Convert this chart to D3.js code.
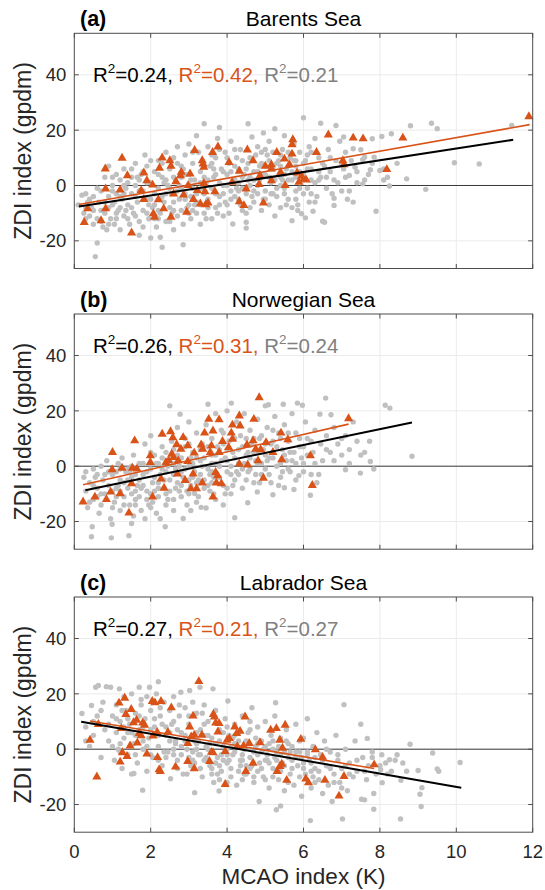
<!DOCTYPE html>
<html><head><meta charset="utf-8">
<script src="https://cdn.jsdelivr.net/npm/d3@7"></script>
<style>body{margin:0;background:#fff}svg{display:block}</style>
</head><body>
<script>
const xTicks=[0,2,4,6,8,10,12];
const yTicks=[-20,0,20,40];
const xDomain=[0,12], yDomain=[-30,55];
const panelLetters=["(a)","(b)","(c)"];
const panelTitles=["Barents Sea","Norwegian Sea","Labrador Sea"];
const r2Black=["0.24","0.26","0.27"];
const r2Orange=["0.42","0.31","0.21"];
const r2Gray=["0.21","0.24","0.27"];
const xLabel="MCAO index (K)", yLabel="ZDI index (gpdm)";

const grayA=[[0.1,-7],[0.2,-3.5],[0.25,-10],[0.3,-3],[0.35,-6],[0.4,-11],[0.45,-8],[0.5,-14],[0.5,-4],[0.55,-25.7],[0.6,-20.8],[0.6,-12],[0.65,-6],[0.7,-2],[0.7,-9],[0.75,-15],[0.8,3],[0.8,-10],[0.85,-16],[0.9,-4],[0.9,7],[0.95,-12],[1.0,0],[1.0,-7],[1.05,-14],[1.1,4],[1.1,-3],[1.15,-9],[1.2,-16],[1.2,2],[1.25,-5],[1.3,-11],[1.3,6],[1.35,-1],[1.4,-7],[1.45,-14],[1.5,3],[1.5,-3],[1.55,-10],[1.6,8],[1.6,0],[1.65,-6],[1.7,-13],[1.7,-18],[1.75,4],[1.8,-2],[1.8,-9],[1.85,11],[1.9,7],[1.9,-5],[1.95,-12],[2.0,1],[2.0,-19],[2.05,-8],[2.1,5],[2.1,-3],[2.15,-15],[2.2,9],[2.2,-1],[2.25,-18.7],[2.25,-10],[2.3,-22.3],[2.3,3],[2.35,-6],[2.4,12],[2.4,-13],[2.45,0],[2.5,6],[2.5,-8],[2.55,-3],[2.6,10],[2.6,-16],[2.65,2],[2.7,-11],[2.7,14],[2.75,-5],[2.8,7],[2.8,-1],[2.85,-21.4],[2.85,-14],[2.9,4],[2.9,11],[2.95,-8],[3.0,0],[3.0,15],[3.05,-4],[3.05,-12],[3.1,8],[3.1,-9],[3.15,2],[3.2,18],[3.2,-6],[3.25,12],[3.25,-2],[3.3,5],[3.3,-14],[3.35,9],[3.4,-10],[3.4,22.3],[3.45,1],[3.5,-5],[3.5,14],[3.55,7],[3.6,-1],[3.6,-12],[3.65,3],[3.7,10],[3.7,-8],[3.75,17],[3.8,21],[3.8,-4],[3.85,6],[3.9,0],[3.9,-11],[3.95,12],[4.0,4],[4.0,-7],[4.05,8],[4.1,-2],[4.1,16],[4.15,-13.9],[4.2,2],[4.25,10],[4.3,-5],[4.3,6],[4.35,13],[4.4,-1],[4.4,-9],[4.45,4],[4.5,-13.3],[4.5,-15.4],[4.5,-10],[4.55,22.3],[4.55,8],[4.6,0],[4.65,17.5],[4.7,5],[4.7,-6],[4.75,11],[4.8,-3],[4.8,14],[4.85,2],[4.9,-9],[4.9,8],[4.95,19],[5.0,4],[5.0,-2],[5.05,11],[5.1,-7],[5.1,16],[5.15,1],[5.2,6],[5.25,-11],[5.25,20.5],[5.3,-4],[5.35,9],[5.4,-8],[5.4,3],[5.45,13],[5.5,18],[5.5,-1],[5.55,6],[5.6,-5],[5.65,10],[5.7,-12.7],[5.7,2],[5.75,15],[5.8,-2],[5.8,7],[5.85,-7],[5.9,12],[5.95,-10.2],[6.0,24.5],[6.0,4],[6.05,-11.7],[6.05,9],[6.1,-1],[6.15,14],[6.2,6],[6.25,-9.3],[6.3,1],[6.3,17],[6.35,-4],[6.4,10],[6.45,22.5],[6.45,3],[6.5,-12.9],[6.55,-13.3],[6.55,7],[6.6,-1],[6.65,13],[6.7,5],[6.75,-3],[6.8,-7.2],[6.8,-4.6],[6.85,21.7],[6.85,9],[6.9,1],[6.95,16],[7.0,-2],[7.05,17.5],[7.05,6],[7.1,12],[7.15,-5],[7.2,3.6],[7.25,9],[7.3,-6],[7.3,13.3],[7.35,6.6],[7.4,1],[7.5,12.9],[7.55,0.6],[7.55,9.3],[7.6,10.2],[7.7,4],[7.75,5.7],[7.8,16.9],[7.85,10.2],[7.9,-9.3],[8.0,5.4],[8.05,17.7],[8.1,6],[8.1,2],[8.2,3],[8.25,-0.2],[8.3,18.7],[8.45,8],[8.7,2.4],[8.8,21.6],[9.2,-1.4],[9.35,22.5],[9.5,20.5],[9.95,8.2],[10.6,7.8],[11.45,21.7],
[1.0,-2],[1.2,-8],[1.4,1],[1.6,-4],[1.8,5],[2.0,-5],[2.2,-12],[2.4,-3],[2.6,-6],[2.8,3],[3.0,-10],[3.2,-3],[3.4,3],[3.6,8],[3.8,-7],[4.0,0],[4.2,-4],[4.4,9],[4.6,-8],[4.8,5],[5.0,7],[5.2,-3],[5.4,11],[5.6,2],[5.8,-5],[6.0,8],[6.2,-3],[6.4,5],[1.1,-12],[1.3,-3],[1.5,-8],[1.7,2],[1.9,-10],[2.1,-7],[2.3,8],[2.5,-13],[2.7,-2],[2.9,-5],[3.1,-1],[3.3,-7],[3.5,2],[3.7,4],[3.9,-3],[4.1,5],[4.3,1],[4.5,-3],[4.7,2],[4.9,12],[5.1,3],[5.3,8],[5.5,-3],[5.7,5],[5.9,-1],[6.1,11],[0.9,-8],[0.7,-13],[0.5,-9],[0.3,-8],[2.2,-9],[2.6,-9],[3.0,-7],[3.4,-3],[3.8,1],[4.2,7],[4.6,3],[5.0,-5],[5.4,0],[5.8,9],[6.2,2],
[0.3,-12],[0.4,-5],[0.6,-1],[0.8,-6],[0.9,-14],[1.0,3],[1.1,-10],[1.2,-4],[1.3,0],[1.4,-12],[1.5,6],[1.6,-11],[1.7,-2],[1.8,-15],[1.9,1],[2.0,9],[2.1,-12],[2.2,4],[2.3,-4],[2.4,2],[2.5,-1],[2.6,3],[2.7,8],[2.8,-9],[2.9,-3],[3.0,4],[3.1,12],[3.2,-10],[3.3,1],[3.4,7],[3.5,-8],[3.6,11],[3.7,-3],[3.8,13],[3.9,5],[4.0,10],[4.1,-5],[4.2,13],[4.3,-2],[4.4,3],[4.5,6],[4.6,10],[4.7,-2],[4.8,0],[4.9,4],[5.0,13],[5.1,9],[5.2,12],[5.3,-1],[5.4,7],[5.5,4],[5.6,12],[5.7,-8],[5.8,3],[5.9,5],[6.0,-3],[6.1,6],[6.2,12],[6.3,-6],[6.4,2],[6.5,8],[6.6,3],[6.7,10],[6.8,2],[7.0,8],[7.1,3],[7.2,-2],[7.4,5],[7.6,2],[7.8,8],[1.05,-6],[1.35,-9],[1.65,3],[1.95,-7],[2.25,-5],[2.55,-10],[2.85,6],[3.15,-7],[3.45,-12],[3.75,-10],[4.05,-10],[4.35,-7],[4.65,-4],[4.95,-5],[5.25,2],[5.55,-7],[5.85,-9],[6.15,-6],[2.35,1],[2.75,0],[3.05,2],[3.35,-1],[3.65,6],[3.95,-6],[4.25,-1],[4.55,2],[4.85,7],[5.15,-3],[5.45,2],[5.75,9]];

const triA=[[0.26,-13.3],[0.35,-8.4],[0.7,-12.7],[0.81,6],[0.82,-1.2],[0.82,-8.4],[1.2,-1.6],[1.25,9.9],[1.39,3.6],[1.5,-17.1],[1.75,-1.8],[1.82,4.6],[1.82,-5],[1.9,1.8],[2.05,0.2],[2.07,-10.2],[2.1,-11.4],[2.2,-5.1],[2.23,6.3],[2.34,-8.4],[2.3,10],[2.5,9],[2.53,7],[2.53,-11.4],[2.6,-3],[2.66,1.4],[2.78,3.6],[2.8,4.8],[2.86,-3.4],[2.94,-9.6],[2.98,0],[3.03,4.2],[3.15,12.7],[3.12,-5],[3.22,-1.8],[3.3,-6.6],[3.35,9],[3.37,7.8],[3.39,0.8],[3.39,6.6],[3.42,-2.2],[3.44,-6.9],[3.5,-6.3],[3.62,12],[3.68,-2.2],[3.76,14],[4.05,8.4],[4.13,1.2],[4.32,5.2],[4.32,-5.8],[4.44,-7.2],[4.5,-1.2],[4.53,12.9],[4.68,9],[4.84,0.4],[4.86,3.6],[4.95,-6.3],[5.0,7],[5.16,6],[5.16,1.8],[5.16,7.5],[5.3,12],[5.4,4.8],[5.52,0],[5.5,9.6],[5.63,7.6],[5.7,11.4],[5.7,14.8],[5.72,16.6],[5.83,4.6],[5.88,1.2],[5.95,3.4],[6.0,2.2],[6.07,2],[6.34,12],[6.65,18.3],[7.03,9],[7.06,7.5],[7.3,17.2],[7.56,16.9],[8.18,5.8],[8.6,17.2],[11.9,24.9]];

const grayB=[[0.25,-4],[0.3,-9],[0.35,-15],[0.4,-6],[0.45,-25.5],[0.47,-21.9],[0.5,-1],[0.5,-12],[0.55,-4],[0.6,-8],[0.65,-17],[0.7,0],[0.7,-14],[0.75,-5],[0.8,-10],[0.85,2],[0.9,-7],[0.95,-19],[0.97,-25.9],[0.99,-21],[1.0,-3],[1.05,-13],[1.1,-8],[1.15,1],[1.2,-16],[1.2,-5],[1.25,3],[1.3,-11],[1.35,-2],[1.4,-8],[1.43,-25.1],[1.45,-14],[1.5,-20.7],[1.5,-4],[1.55,4],[1.6,-12],[1.65,-7],[1.7,1],[1.75,-16],[1.8,-3],[1.85,8],[1.9,-9],[1.95,-14],[2.0,-1],[2.0,11],[2.05,-6],[2.1,4],[2.15,-17],[2.2,-11],[2.25,-3],[2.3,7],[2.35,-8],[2.38,-21.9],[2.4,-14],[2.45,0],[2.5,21.8],[2.5,-5],[2.55,9],[2.6,-12],[2.65,-1],[2.7,14],[2.75,-9],[2.77,18.8],[2.8,3],[2.85,-18.9],[2.85,-4],[2.9,10],[2.95,-14],[3.0,0],[3.0,16],[3.05,-7],[3.1,5],[3.15,-9.9],[3.15,-2],[3.2,12],[3.25,-11],[3.3,2],[3.32,-14.9],[3.35,8],[3.4,-5],[3.45,-15.1],[3.45,15],[3.5,22.4],[3.5,-1],[3.55,-9],[3.6,10],[3.6,4],[3.65,-4],[3.7,19],[3.7,-12],[3.75,7],[3.8,0],[3.85,13],[3.9,-7],[3.95,3],[4.0,20],[4.0,-2],[4.05,9],[4.1,-10],[4.11,22.8],[4.15,5],[4.2,-18.6],[4.2,-5],[4.25,16],[4.3,1],[4.35,11],[4.4,-8],[4.45,19],[4.5,4],[4.54,-13.2],[4.55,-2],[4.6,13],[4.65,8],[4.7,-6],[4.75,2],[4.79,-9.3],[4.8,17],[4.85,10],[4.9,-3],[4.95,6],[5.0,21.8],[5.0,-1],[5.05,14],[5.08,22.2],[5.1,3],[5.15,-6],[5.2,-10.3],[5.2,9],[5.25,18],[5.3,0],[5.35,12],[5.4,-4],[5.45,6],[5.47,22.4],[5.5,-7.8],[5.5,15],[5.55,2],[5.6,9],[5.65,-2],[5.7,19],[5.75,-8.4],[5.75,5],[5.8,12],[5.84,22.8],[5.88,-3.4],[5.9,7],[5.97,22],[6.0,1],[6.05,16],[6.1,10],[6.18,-10.5],[6.2,-3],[6.25,5],[6.3,13],[6.35,-6],[6.43,18.8],[6.45,8],[6.5,2],[6.58,24.6],[6.6,11],[6.7,5],[6.72,18.6],[6.8,14],[6.9,8],[7.0,4],[7.1,-1.3],[7.1,11],[7.2,6],[7.3,16],[7.4,9],[7.49,-2.5],[7.5,4],[7.6,5],[7.73,9],[7.75,1.7],[7.84,-1],[8.14,22],[8.26,21],[8.84,3.6],
[1.1,-2],[1.3,-6],[1.5,0],[1.7,-5],[1.9,-2],[2.1,-9],[2.3,-1],[2.5,2],[2.7,-6],[2.9,-1],[3.1,-4],[3.3,6],[3.5,-7],[3.7,1],[3.9,8],[4.1,-3],[4.3,6],[4.5,-5],[4.7,10],[4.9,1],[1.2,-9],[1.4,-1],[1.6,-9],[1.8,-7],[2.0,-10],[2.2,1],[2.4,5],[2.6,-3],[2.8,-11],[3.0,-10],[3.2,-6],[3.4,3],[3.6,-2],[3.8,6],[4.0,2],[4.2,10],[4.4,-1],[4.6,3],[4.8,5],[5.0,8],[5.2,3],[5.4,10],[5.6,-1],[5.8,1],[6.0,7],[0.8,-3],[0.6,-11],[0.4,-13],[2.4,-10],[2.8,-7],[3.2,-13],[3.6,-6],[4.0,-8],[1.0,-9],[1.6,-14],[2.0,-15],[2.6,-16],[2.2,-6],[2.6,6],[3.0,8],
[0.3,-2],[0.5,-7],[0.6,-3],[0.7,-10],[0.9,-2],[1.0,-15],[1.1,-11],[1.2,-1],[1.3,-14],[1.4,-5],[1.5,-10],[1.6,-3],[1.7,-11],[1.8,1],[1.9,-12],[2.0,5],[2.1,-4],[2.2,-8],[2.3,3],[2.4,-2],[2.5,-9],[2.6,1],[2.7,4],[2.8,-2],[2.9,7],[3.0,-5],[3.1,1],[3.2,3],[3.3,-3],[3.4,-8],[3.5,7],[3.6,1],[3.7,4],[3.8,-4],[3.9,12],[4.0,6],[4.1,0],[4.2,3],[4.3,-3],[4.4,7],[4.5,10],[4.6,-1],[4.7,5],[4.8,1],[4.9,11],[5.0,4],[5.1,-3],[5.2,13],[5.3,7],[5.4,1],[5.5,4],[5.6,12],[5.7,2],[5.8,-5],[5.9,10],[6.0,-2],[6.1,4],[6.2,9],[6.3,1],[6.4,-3],[6.6,6],[6.8,2],[7.0,10],[7.2,1],[1.15,-7],[1.45,-2],[1.75,-8],[2.05,-13],[2.35,-5],[2.65,-8],[2.95,-9],[3.25,-5],[3.55,-3],[3.85,2],[4.15,-7],[4.45,1],[4.75,-3],[5.05,2],[5.35,-7],[5.65,5],[5.95,3],[2.15,1],[2.45,-12],[2.75,0],[3.05,3],[3.35,0],[3.65,-10],[3.95,-10],[4.25,-2],[4.55,5],[4.85,-6],[5.15,8],[5.45,-2],[1.55,-18],[1.85,-19],[2.25,-19],[3.05,-16],[3.9,-14]];

const triB=[[0.23,-12.9],[0.54,-11.1],[0.84,-12],[0.95,-9.3],[1.0,5],[0.99,-1.2],[1.2,-9.9],[1.25,-0.7],[1.43,-16.9],[1.5,-6.3],[1.52,-0.7],[1.58,9.2],[1.64,-1],[1.99,3.8],[1.99,1.4],[2.05,-11.1],[2.27,-4.6],[2.3,11.6],[2.35,-7.9],[2.4,1.4],[2.47,2],[2.52,12.5],[2.55,4.4],[2.58,10.3],[2.6,3.2],[2.68,7.8],[2.7,-2.8],[2.72,2],[2.79,6.2],[2.85,10.4],[2.9,-5.1],[2.97,7.4],[2.97,1.7],[3.05,-8.1],[3.11,-2.8],[3.14,4.8],[3.2,-8.1],[3.32,7.7],[3.35,-6],[3.36,6.2],[3.41,12],[3.52,17],[3.56,5],[3.59,7.4],[3.63,12.8],[3.63,-11.1],[3.7,-2.2],[3.72,-6],[3.75,-3.4],[3.79,16.8],[3.79,5],[3.85,-6.3],[3.88,9],[4.04,6.8],[4.11,12],[4.14,14.9],[4.14,9.8],[4.34,14.6],[4.32,18.2],[4.32,0.8],[4.52,7.7],[4.54,0.5],[4.68,9.2],[4.7,17],[4.75,6.2],[4.81,2],[4.84,24.8],[4.88,6],[4.95,-4.3],[5.02,8.6],[5.2,5],[5.41,12],[5.43,2.4],[5.59,9.6],[6.18,3.8],[6.23,-6.9],[7.18,17.2]];

const grayC=[[0.2,12.9],[0.3,8],[0.4,1],[0.45,15.8],[0.5,5],[0.56,22.4],[0.6,12],[0.63,23],[0.7,-3],[0.75,17],[0.8,7],[0.84,22.6],[0.9,3],[0.95,22.4],[1.0,12],[1.05,-4],[1.1,16],[1.1,6],[1.15,0],[1.18,21.8],[1.2,10],[1.25,-7],[1.3,19],[1.3,4],[1.35,14],[1.4,-2],[1.45,9],[1.5,20],[1.5,-9],[1.55,2],[1.56,-8.8],[1.6,13],[1.65,-5],[1.7,22.4],[1.7,7],[1.75,16],[1.79,-14.8],[1.8,0],[1.85,11],[1.9,19],[1.9,-8],[1.95,4],[1.97,22.4],[2.0,14],[2.05,-3],[2.1,8],[2.15,20],[2.2,24.4],[2.2,1],[2.25,12],[2.3,-6],[2.35,17],[2.4,5],[2.45,-1],[2.5,14],[2.52,-10.7],[2.55,9],[2.6,19],[2.65,2],[2.7,-4],[2.75,12],[2.79,20.6],[2.8,6],[2.85,-9],[2.9,15],[2.95,0],[3.0,9],[3.02,21.2],[3.05,-6],[3.1,17],[3.15,-15.7],[3.15,3],[3.2,13],[3.25,-2],[3.29,22.4],[3.3,7],[3.35,-10],[3.4,16],[3.45,1],[3.5,10],[3.55,-6],[3.6,4],[3.63,21.8],[3.65,-12],[3.7,14],[3.75,-3],[3.79,-15.1],[3.8,7],[3.85,-8],[3.9,1],[3.95,11],[4.0,-5],[4.02,17.4],[4.05,5],[4.1,-10],[4.15,-2],[4.2,9],[4.25,-13],[4.3,3],[4.35,-6],[4.4,12],[4.45,0],[4.5,-9],[4.55,6],[4.6,-3],[4.65,15],[4.7,-12],[4.75,1],[4.8,8],[4.84,-18.9],[4.85,-5],[4.9,3],[4.95,-10],[5.0,10],[5.05,-2],[5.1,-14],[5.15,5],[5.2,-7],[5.25,12],[5.27,16.8],[5.29,-21.9],[5.3,-1],[5.35,-11],[5.4,-20.5],[5.4,4],[5.45,-5],[5.5,-15],[5.55,7],[5.6,-3],[5.65,-9],[5.7,1],[5.75,-13],[5.8,9],[5.85,-6],[5.9,-1],[5.95,-17],[6.0,4],[6.05,-9],[6.1,11],[6.15,-4],[6.18,-25.8],[6.2,-14],[6.25,1],[6.3,-7],[6.35,6],[6.4,-11],[6.45,-2],[6.5,-16],[6.55,3],[6.6,-6],[6.65,-13],[6.7,-1],[6.75,-18.9],[6.8,-9],[6.85,5],[6.9,-4],[6.95,-12],[7.0,-7],[7.02,-25.2],[7.06,16.1],[7.1,0],[7.15,-15],[7.2,-5],[7.3,-10],[7.35,3],[7.4,-8],[7.5,9],[7.52,-18.1],[7.55,-3],[7.6,-18.3],[7.65,-11],[7.67,3.9],[7.7,-6],[7.8,-1],[7.84,-21.7],[7.84,-16],[7.9,-9],[8.02,-7.4],[8.05,-2],[8.06,-12.1],[8.15,-5],[8.25,-3.8],[8.3,-8],[8.45,-2],[8.55,-11.2],[8.54,-25.2],[8.6,-5],[8.7,-8],[8.79,1.8],[9.0,-7.7],[9.05,-16.3],[9.08,-20.7],[9.1,-13.9],[9.38,-1.4],[9.5,-7.1],[9.54,-8],[10.1,-4.8],
[2.4,8],[2.6,-2],[2.8,1],[3.0,-3],[3.2,6],[3.4,-4],[3.6,-1],[3.8,3],[4.0,-2],[4.2,2],[4.4,-4],[4.6,7],[4.8,-8],[5.0,1],[5.2,3],[5.4,-8],[5.6,2],[5.8,-3],[6.0,-5],[6.2,-8],[2.5,3],[2.7,-7],[2.9,5],[3.1,-1],[3.3,-7],[3.5,5],[3.7,-5],[3.9,-4],[4.1,1],[4.3,-8],[4.5,3],[4.7,-1],[4.9,-7],[5.1,2],[5.3,-4],[5.5,-1],[5.7,-7],[5.9,3],[6.1,-2],[6.3,-3],[3.6,-9],[4.0,-12],[4.4,-11],[4.8,-2],[5.2,-10],[3.2,0],[3.8,-11],[4.2,5],[4.6,-7],[5.0,-4],[1.2,2],[1.6,5],[2.0,7],[2.2,-4],[1.4,6],[1.8,3],[2.6,10],[3.4,9],[4.0,8],[4.6,10],
[0.3,3],[0.5,10],[0.7,14],[0.9,9],[1.0,1],[1.1,11],[1.2,-1],[1.3,8],[1.4,11],[1.5,6],[1.6,-2],[1.7,12],[1.8,8],[1.9,1],[2.0,-2],[2.1,11],[2.2,5],[2.3,9],[2.4,-3],[2.5,6],[2.6,0],[2.7,7],[2.8,-2],[2.9,3],[3.0,12],[3.1,-4],[3.2,2],[3.3,-2],[3.4,5],[3.5,0],[3.6,-7],[3.7,2],[3.8,-6],[3.9,6],[4.0,0],[4.1,-7],[4.2,-1],[4.3,6],[4.4,-2],[4.5,-6],[4.6,0],[4.7,-10],[4.8,2],[4.9,-1],[5.0,-11],[5.1,-5],[5.2,0],[5.3,-8],[5.4,-2],[5.5,-6],[5.6,-12],[5.7,-4],[5.8,-1],[5.9,-10],[6.0,-7],[6.1,-1],[6.2,-5],[6.3,-12],[6.4,-8],[6.5,-4],[6.6,0],[6.7,-7],[6.8,-12],[6.9,-2],[7.0,-14],[7.1,-6],[7.2,-9],[7.4,-4],[7.6,-8],[7.8,-3],[8.0,-6],[8.2,-9],[8.4,-4],[2.35,-1],[2.65,3],[2.95,-9],[3.25,3],[3.55,2],[3.85,-2],[4.15,4],[4.45,-9],[4.75,4],[5.05,-4],[5.35,1],[5.65,-1],[5.95,-3],[6.25,-10],[3.15,-5],[3.45,-3],[3.75,-9],[4.05,-4],[4.35,-4],[4.65,-6],[4.95,0],[5.25,-3],[5.55,3],[1.25,14],[1.75,18],[2.25,15],[2.75,16],[3.35,13]];

const triC=[[0.41,3.3],[0.59,-10],[0.63,9],[1.17,16.7],[1.2,-4.6],[1.23,7.5],[1.26,-1.2],[1.32,18.5],[1.35,12.6],[1.38,-2.6],[1.46,1.2],[1.49,14.4],[1.55,9.6],[1.63,10.5],[1.65,2.3],[1.7,5.7],[1.75,4.9],[1.79,9.5],[1.84,8.7],[1.9,-1.7],[2.04,17.3],[2.06,4.8],[2.11,16.8],[2.17,6.1],[2.18,-3],[2.22,-7.4],[2.25,-8],[2.27,17.3],[2.45,6.1],[2.54,15],[2.65,-6.4],[2.97,2.1],[2.97,-4.4],[3.02,8.1],[3.06,4.5],[3.11,12],[3.14,5.1],[3.14,-7],[3.26,24.5],[3.34,5.1],[3.54,-4.4],[3.59,-1.1],[3.63,-1.2],[3.64,12.6],[3.67,11.7],[3.7,9.5],[3.76,6.3],[3.79,9.3],[3.95,-0.8],[3.95,-12.7],[4.0,3.3],[4.06,3.9],[4.2,8.1],[4.25,5.7],[4.27,1],[4.34,6.5],[4.43,1.2],[4.47,11.7],[4.49,-8],[4.58,2.1],[4.68,-5],[4.86,2.4],[5.14,6.9],[5.29,7.5],[5.31,-8],[5.38,3.3],[5.38,-6.2],[5.43,-5.4],[5.45,0.4],[5.52,8.7],[5.56,-11.2],[5.93,3.6],[6.06,-10.7],[6.13,-12.1],[6.31,-0.2],[6.5,-2.9],[6.56,-11.2],[6.93,-16.9],[7.06,-9.8],[7.85,-5.6]];

// regression line end points [x0,y0],[x1,y1]
const fitBlack=[[[0.12,-7.6],[11.49,16.5]],[[0.29,-8.7],[8.84,15.8]],[[0.18,9.9],[10.13,-13.9]]];
const fitOrange=[[[0.12,-6.9],[11.92,22.0]],[[0.23,-6.7],[7.18,15.2]],[[0.41,10.2],[7.85,-7.0]]];
const grayData=[grayA,grayB,grayC], triData=[triA,triB,triC];
const r2Y=[37.5,41,41];

const W=545,H=890;
const FONT="'Liberation Sans', Arial, Helvetica, sans-serif";
const ORANGE="#D95319", GRAYPT="#c0c0c0", AXC="#4d4d4d";
const left=74.3, right=532.7, tops=[33.3,314,597], ph=235.2;

const svg=d3.select("body").append("svg").attr("width",W).attr("height",H).style("font-family",FONT);
const x=d3.scaleLinear().domain(xDomain).range([left,right]);

tops.forEach((top,i)=>{
  const y=d3.scaleLinear().domain(yDomain).range([top+ph,top]);
  const g=svg.append("g");
  g.selectAll(".gx").data(xTicks.slice(1,-1)).join("line").attr("x1",d=>x(d)).attr("x2",d=>x(d)).attr("y1",top).attr("y2",top+ph).attr("stroke","#ebebeb").attr("stroke-width",1);
  g.selectAll(".gy").data(yTicks).join("line").attr("y1",d=>y(d)).attr("y2",d=>y(d)).attr("x1",left).attr("x2",right).attr("stroke","#ebebeb").attr("stroke-width",1);
  g.append("line").attr("x1",left).attr("x2",right).attr("y1",y(0)).attr("y2",y(0)).attr("stroke","#262626").attr("stroke-width",0.9);
  g.selectAll(".gp").data(grayData[i]).join("circle").attr("cx",d=>x(d[0])).attr("cy",d=>y(d[1])).attr("r",2.7).attr("fill",GRAYPT);
  const tri=d3.symbol().type(d3.symbolTriangle).size(36);
  g.selectAll(".tp").data(triData[i]).join("path").attr("d",tri).attr("transform",d=>`translate(${x(d[0])},${y(d[1])})`).attr("fill",ORANGE);
  const ln=d3.line().x(d=>x(d[0])).y(d=>y(d[1]));
  g.append("path").attr("d",ln(fitOrange[i])).attr("stroke",ORANGE).attr("stroke-width",1.6).attr("fill","none");
  g.append("path").attr("d",ln(fitBlack[i])).attr("stroke","#000").attr("stroke-width",2).attr("fill","none");
  g.append("rect").attr("x",left).attr("y",top).attr("width",right-left).attr("height",ph).attr("fill","none").attr("stroke",AXC).attr("stroke-width",1);
  const tl=4.5;
  xTicks.forEach(t=>{
    g.append("line").attr("x1",x(t)).attr("x2",x(t)).attr("y1",top+ph).attr("y2",top+ph-tl).attr("stroke",AXC);
    g.append("line").attr("x1",x(t)).attr("x2",x(t)).attr("y1",top).attr("y2",top+tl).attr("stroke",AXC);
  });
  yTicks.forEach(t=>{
    g.append("line").attr("y1",y(t)).attr("y2",y(t)).attr("x1",left).attr("x2",left+tl).attr("stroke",AXC);
    g.append("line").attr("y1",y(t)).attr("y2",y(t)).attr("x1",right).attr("x2",right-tl).attr("stroke",AXC);
  });
  g.selectAll(".yl").data(yTicks).join("text").attr("x",left-8).attr("y",d=>y(d)).attr("dy","0.36em").attr("text-anchor","end").attr("font-size",18.5).attr("fill","#262626").text(d=>d);
  g.append("text").attr("transform",`translate(31,${top+ph/2}) rotate(-90)`).attr("text-anchor","middle").attr("font-size",23).attr("fill","#262626").text(yLabel);
  g.append("text").attr("x",(left+right)/2).attr("y",top-7).attr("text-anchor","middle").attr("font-size",21).attr("fill","#000").text(panelTitles[i]);
  g.append("text").attr("x",80).attr("y",top-7).attr("font-size",21.5).attr("font-weight","bold").attr("fill","#000").text(panelLetters[i]);
  const t=g.append("text").attr("x",93).attr("y",y(r2Y[i])).attr("font-size",20.5);
  const seg=(col,val,comma)=>{
    t.append("tspan").attr("fill",col).text("R");
    t.append("tspan").attr("fill",col).attr("font-size",13.5).attr("dy",-8.5).text("2");
    t.append("tspan").attr("fill",col).attr("dy",8.5).text("="+val+(comma?", ":""));
  };
  seg("#000",r2Black[i],true);
  seg(ORANGE,r2Orange[i],true);
  seg("#808080",r2Gray[i],false);
  if(i===2){
    g.selectAll(".xl").data(xTicks).join("text").attr("x",d=>x(d)).attr("y",top+ph+26).attr("text-anchor","middle").attr("font-size",18.5).attr("fill","#262626").text(d=>d);
    g.append("text").attr("x",(left+right)/2).attr("y",top+ph+52).attr("text-anchor","middle").attr("font-size",22.5).attr("fill","#262626").text(xLabel);
  }
});
</script>
</body></html>
